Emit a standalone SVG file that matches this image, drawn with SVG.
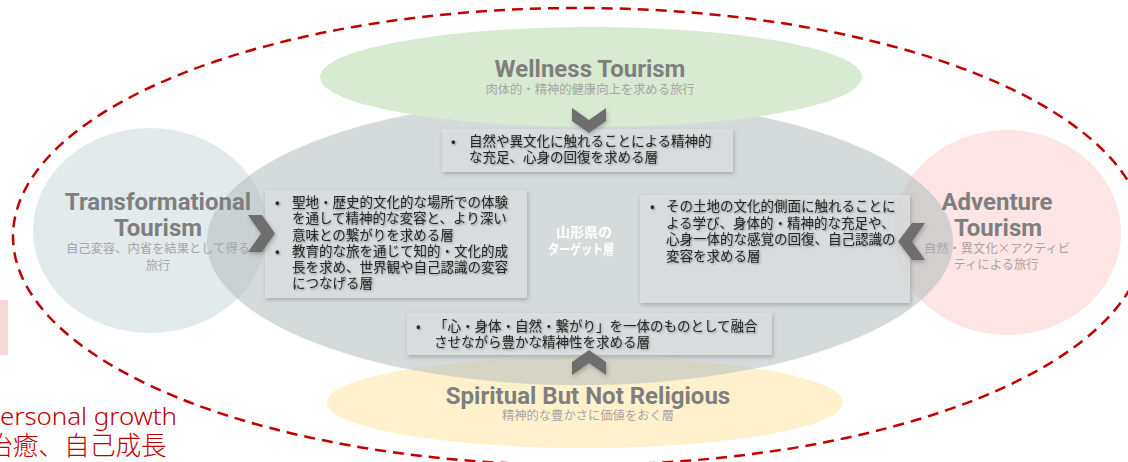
<svg xmlns="http://www.w3.org/2000/svg" width="1128" height="462" viewBox="0 0 1128 462">
<defs>
<style>
.title{font-family:Roboto,"Liberation Sans",sans-serif;font-weight:700;fill:#7f7f7f;font-size:24px;text-anchor:middle}
.sub{font-family:"Noto Sans CJK JP",sans-serif;fill:#a6a6a6;font-size:12.3px;text-anchor:middle}
.body{font-family:"Noto Sans CJK JP",sans-serif;fill:#262626;font-size:13.5px}
.box{fill:#dcdfdf;fill-opacity:.85}
.chev{fill:#6e6e6e}
.lbl{font-family:"Noto Sans CJK JP",sans-serif;fill:#ffffff;font-size:14px;font-weight:700;text-anchor:middle}
.red{fill:#c00000;font-weight:300}
</style>
<filter id="bs" x="-10%" y="-20%" width="120%" height="150%">
<feDropShadow dx="1" dy="2" stdDeviation="2" flood-color="#000" flood-opacity="0.25"/>
</filter>
<filter id="ts" x="-5%" y="-20%" width="110%" height="150%">
<feGaussianBlur in="SourceAlpha" stdDeviation="1"/>
<feOffset dx="1" dy="1" result="b"/>
<feComponentTransfer><feFuncA type="linear" slope="0.4"/></feComponentTransfer>
<feMerge><feMergeNode/><feMergeNode in="SourceGraphic"/></feMerge>
</filter>
</defs>
<rect width="1128" height="462" fill="#ffffff"/>

<g id="frame">
<ellipse cx="579" cy="236.5" rx="566" ry="228.5" fill="none" stroke="#c00000" stroke-width="2.5" stroke-dasharray="11 7"/>
</g>

<g id="spiritual">
<ellipse cx="585" cy="402.5" rx="258" ry="45.5" fill="#fff1cc"/>
</g>
<g id="transformational">
<ellipse cx="150" cy="230.5" rx="117" ry="102.5" fill="#e3eaec"/>
</g>
<g id="adventure">
<ellipse cx="1007" cy="232.5" rx="114" ry="102.5" fill="#fde4e5"/>
</g>
<g id="target">
<ellipse cx="580" cy="242" rx="373" ry="143" fill="#b6c0c0" fill-opacity="0.58" stroke="#c3caca" stroke-width="0.6" stroke-dasharray="1 1"/>
</g>
<g id="wellness">
<ellipse cx="591" cy="77" rx="271" ry="50" fill="#d9ead3"/>
<text class="title" x="590" y="77">Wellness Tourism</text>
<text class="sub" x="590" y="94">肉体的・精神的健康向上を求める旅行</text>
</g>
<g id="transformational-text">
<text class="title" x="158" y="210">Transformational</text>
<text class="title" x="158" y="236">Tourism</text>
<text class="sub" x="158" y="253">自己変容、内省を結果として得る</text>
<text class="sub" x="158" y="270">旅行</text>
</g>
<g id="adventure-text">
<text class="title" x="997" y="210">Adventure</text>
<text class="title" x="998" y="236">Tourism</text>
<text class="sub" x="997" y="253">自然・異文化×アクティビ</text>
<text class="sub" x="996" y="269">ティによる旅行</text>
</g>
<g id="spiritual-text">
<text class="title" x="588" y="404">Spiritual But Not Religious</text>
<text class="sub" x="588" y="420">精神的な豊かさに価値をおく層</text>
</g>
<g id="target-label">
<text class="lbl" x="584" y="237">山形県の</text>
<text class="lbl" x="581" y="254" textLength="66" lengthAdjust="spacingAndGlyphs">ターゲット層</text>
</g>

<g id="box-top">
<rect class="box" x="442" y="129" width="291" height="43" filter="url(#bs)"/>
<g class="body" filter="url(#ts)">
<text x="451" y="146">•</text>
<text x="469" y="146">自然や異文化に触れることによる精神的</text>
<text x="469" y="162">な充足、心身の回復を求める層</text>
</g>
</g>
<g id="box-left">
<rect class="box" x="265" y="190" width="262" height="108" filter="url(#bs)"/>
<g class="body" filter="url(#ts)">
<text x="275" y="207">•</text>
<text x="292" y="207">聖地・歴史的文化的な場所での体験</text>
<text x="292" y="223">を通して精神的な変容と、より深い</text>
<text x="292" y="239.5">意味との繋がりを求める層</text>
<text x="275" y="256">•</text>
<text x="292" y="256">教育的な旅を通じて知的・文化的成</text>
<text x="292" y="272">長を求め、世界観や自己認識の変容</text>
<text x="292" y="288">につなげる層</text>
</g>
</g>
<g id="box-right">
<rect class="box" x="640" y="195" width="270" height="108" filter="url(#bs)"/>
<g class="body" filter="url(#ts)">
<text x="650" y="211">•</text>
<text x="666" y="211">その土地の文化的側面に触れることに</text>
<text x="666" y="227.5">よる学び、身体的・精神的な充足や、</text>
<text x="666" y="244">心身一体的な感覚の回復、自己認識の</text>
<text x="666" y="260.5">変容を求める層</text>
</g>
</g>
<g id="box-bottom">
<rect class="box" x="407" y="313" width="365" height="42" filter="url(#bs)"/>
<g class="body" filter="url(#ts)">
<text x="416" y="331">•</text>
<text x="434" y="331">「心・身体・自然・繋がり」を一体のものとして融合</text>
<text x="434" y="346.5">させながら豊かな精神性を求める層</text>
</g>
</g>

<g id="connectors" class="chev" filter="url(#bs)">
<polygon points="572,108 589,120 606,108 606,121 589,133 572,121"/>
<polygon points="589,350 606,362 606,375 589,363 572,375 572,362"/>
<polygon points="248,215 262,215 275,233.5 262,252 248,252 261,233.5"/>
<polygon points="925,223 912,223 898,241.5 912,260 925,260 912,241.5"/>
</g>

<g id="side-note">
<rect x="0" y="300" width="8" height="55" fill="#f8d7d7"/>
<text class="red" x="0" y="425" font-family="'Noto Sans',sans-serif" font-size="24" textLength="177" lengthAdjust="spacingAndGlyphs">ersonal growth</text>
<text class="red" x="-13" y="455" font-family="'Noto Sans CJK JP',sans-serif" font-size="25.7">治癒、自己成長</text>
</g>
</svg>
